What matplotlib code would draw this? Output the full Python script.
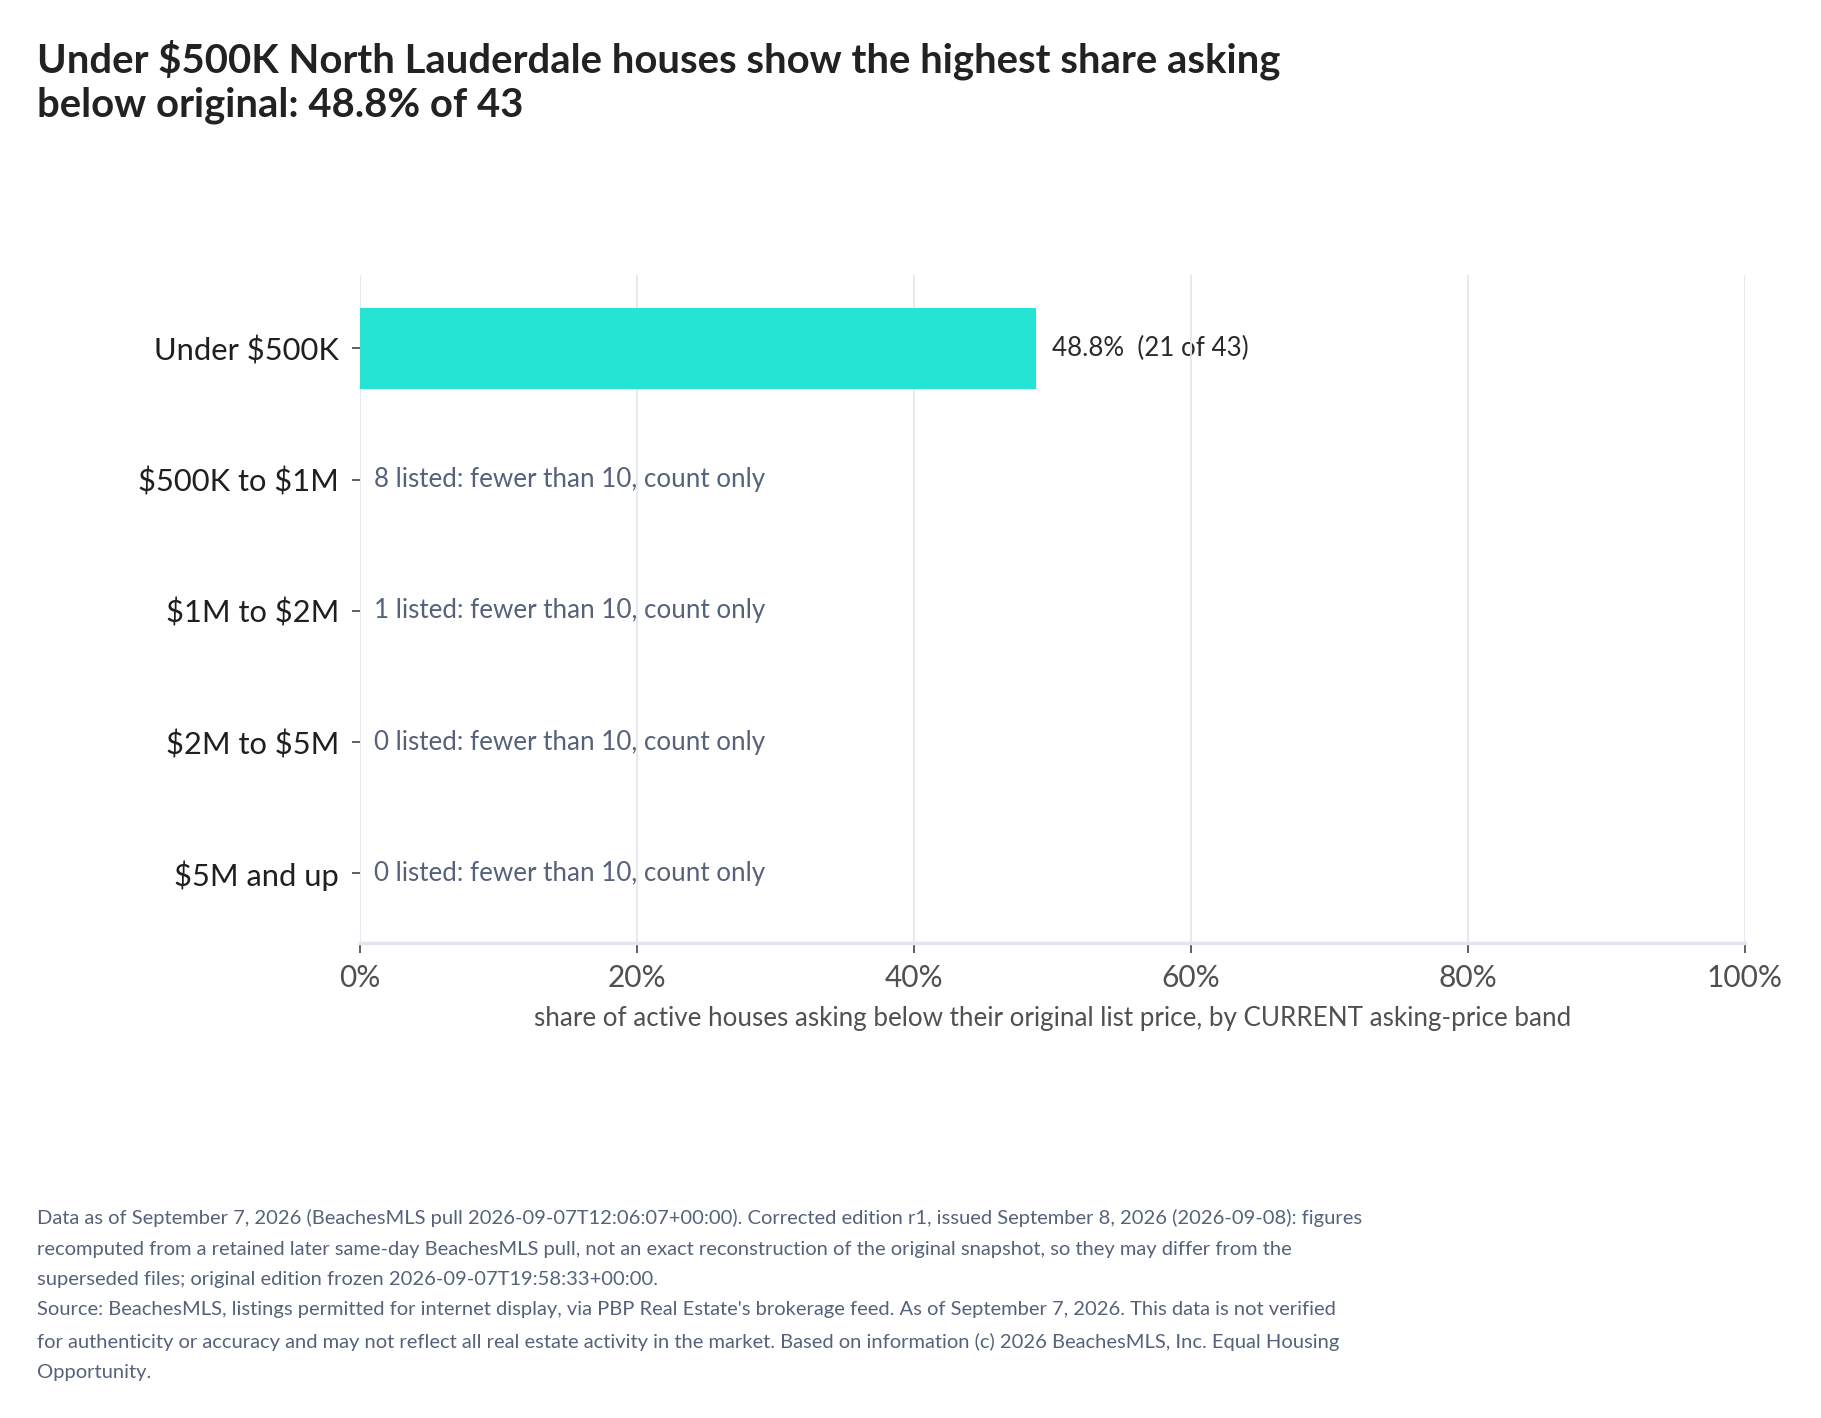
import matplotlib
matplotlib.use("Agg")
import matplotlib.pyplot as plt

plt.rcParams['font.family'] = ['Lato', 'DejaVu Sans']

categories = ["Under $500K", "$500K to $1M", "$1M to $2M", "$2M to $5M", "$5M and up"]
shares = [48.8, None, None, None, None]
below_counts = [21, None, None, None, None]
listed_counts = [43, 8, 1, 0, 0]
x_ticks = [0, 20, 40, 60, 80, 100]
x_tick_labels = ["0%", "20%", "40%", "60%", "80%", "100%"]

title = ("Under $500K North Lauderdale houses show the highest share asking\n"
         "below original: 48.8% of 43")
x_title = "share of active houses asking below their original list price, by CURRENT asking-price band"
footer = ("Data as of September 7, 2026 (BeachesMLS pull 2026-09-07T12:06:07+00:00). Corrected edition r1, issued September 8, 2026 (2026-09-08): figures\n"
          "recomputed from a retained later same-day BeachesMLS pull, not an exact reconstruction of the original snapshot, so they may differ from the\n"
          "superseded files; original edition frozen 2026-09-07T19:58:33+00:00.\n"
          "Source: BeachesMLS, listings permitted for internet display, via PBP Real Estate's brokerage feed. As of September 7, 2026. This data is not verified\n"
          "for authenticity or accuracy and may not reflect all real estate activity in the market. Based on information (c) 2026 BeachesMLS, Inc. Equal Housing\n"
          "Opportunity.")

W, H = 1821, 1418
fig = plt.figure(figsize=(W / 100, H / 100), dpi=100)
ax = fig.add_axes([360 / W, 1 - 943 / H, (1745 - 360) / W, (943 - 275) / H])

ypos = list(range(len(categories)))
for i, (cat, s) in enumerate(zip(categories, shares)):
    if s is not None:
        ax.barh(i, s, height=0.61, color='#26E4D4', zorder=2)
        ax.text(s + 1.2, i, f"{s:.1f}%  ({below_counts[i]} of {listed_counts[i]})",
                va='center', ha='left', fontsize=18.7, color='#2A2A2A', zorder=0.3,
                parse_math=False)
    else:
        ax.text(1.0, i, f"{listed_counts[i]} listed: fewer than 10, count only",
                va='center', ha='left', fontsize=18.7, color='#56627A', zorder=3,
                parse_math=False)

ax.set_xlim(0, 100)
ax.set_ylim(len(categories) - 0.47, -0.56)
ax.set_yticks(ypos)
ax.set_yticklabels(categories, fontsize=22.2, color='#1F1F1F', parse_math=False)
ax.set_xticks(x_ticks)
ax.set_xticklabels(x_tick_labels, fontsize=21.5, color='#505050')
ax.tick_params(axis='x', direction='out', length=7, width=1.2, color='#444444', pad=8)
ax.tick_params(axis='y', direction='out', length=6, width=1.2, color='#444444', pad=9)
ax.grid(axis='x', color='#E6E6F0', linewidth=1.3, zorder=0.5)
ax.set_axisbelow(True)
for side in ['top', 'right', 'left']:
    ax.spines[side].set_visible(False)
ax.spines['bottom'].set_color('#E3E6F0')
ax.spines['bottom'].set_linewidth(2.5)
ax.set_xlabel(x_title, fontsize=18.7, color='#505050', labelpad=10)

fig.text(37 / W, 1 - 40 / H, title, fontsize=28.8, fontweight='bold', color='#222222',
         va='top', ha='left', linespacing=1.2, parse_math=False)
fig.text(37 / W, 1 - 1209 / H, footer, fontsize=14.5, color='#56627A',
         va='top', ha='left', linespacing=1.96, parse_math=False)

fig.savefig("out.png", dpi=100, facecolor='white')
